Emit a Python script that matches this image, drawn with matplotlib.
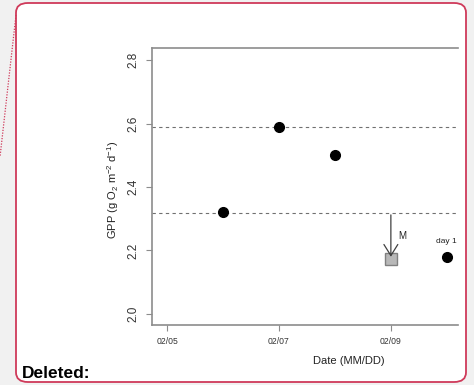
import numpy as np
import matplotlib.pyplot as plt
from matplotlib.patches import FancyBboxPatch
from matplotlib.lines import Line2D

plt.rcParams['font.family'] = ['Liberation Sans', 'DejaVu Sans']
plt.rcParams['mathtext.fontset'] = 'custom'
plt.rcParams['mathtext.rm'] = 'Liberation Sans'
plt.rcParams['mathtext.it'] = 'Liberation Sans:italic'

# GPP estimates by day of February
day = [6, 7, 8, 10]
gpp = [2.32, 2.59, 2.50, 2.18]
# moved sample (square)
day_m = [9]
gpp_m = [2.173]
# reference levels (dashed)
ref_levels = [2.59, 2.318]
xtick_days = [5, 7, 9]
xtick_labels = ['02/05', '02/07', '02/09']
yticks = [2.0, 2.2, 2.4, 2.6, 2.8]

W, H = 474, 385
fig = plt.figure(figsize=(W / 100, H / 100), dpi=100, facecolor='#f1f1f1')

def fx(px):
    return px / W

def fy(py):
    return 1 - py / H

# comment balloon frame
box = FancyBboxPatch((fx(16), fy(382)), fx(466) - fx(16), fy(3) - fy(382),
                     boxstyle='round,pad=0,rounding_size=0.025',
                     transform=fig.transFigure, facecolor='white',
                     edgecolor='#cf3a5a', linewidth=1.3, zorder=-5)
fig.patches.append(box)
fig.lines.append(Line2D([fx(16), fx(0)], [fy(15), fy(157)], transform=fig.transFigure,
                        color='#cf3a5a', linestyle=(0, (1, 1.2)), linewidth=0.9,
                        zorder=-4))
fig.text(fx(22), fy(374), 'Deleted:', fontsize=12.5, fontweight='bold',
         va='center', ha='left')

ax = fig.add_axes([fx(152), fy(325), fx(458) - fx(152), fy(48) - fy(325)])
ax.set_facecolor('none')
ax.set_xlim(4.73, 10.2)
ax.set_ylim(1.965, 2.838)

for s in ['left', 'bottom', 'top']:
    ax.spines[s].set_color('#8c8c8c')
    ax.spines[s].set_linewidth(1.2)
ax.spines['right'].set_visible(False)

for lvl in ref_levels:
    ax.axhline(lvl, color='#707070', linestyle=(0, (3, 3)), linewidth=0.8, zorder=1)

ax.plot(day, gpp, 'o', color='black', markersize=7, zorder=3)
ax.plot(day_m, gpp_m, 's', markerfacecolor='#b8b8b8', markeredgecolor='#808080',
        markersize=8, zorder=3)

ax.annotate('', xy=(9, 2.18), xytext=(9, 2.312),
            arrowprops=dict(arrowstyle='->,head_length=0.4,head_width=0.25',
                            mutation_scale=20, color='#404040', linewidth=0.9,
                            shrinkA=0, shrinkB=0), zorder=4)
ax.text(9.2, 2.245, 'M', fontsize=7, ha='center', va='center', color='#222222')
ax.text(10.0, 2.227, 'day 1', fontsize=6, ha='center', va='center', color='#222222')

ax.set_xticks(xtick_days)
ax.set_xticklabels(xtick_labels, fontsize=6.2, color='#333333')
ax.set_yticks(yticks)
ax.set_yticklabels(['%.1f' % v for v in yticks], fontsize=8.5, rotation=90,
                   va='center', color='#333333')
ax.tick_params(axis='both', length=4, width=0.8, color='#8c8c8c')
ax.tick_params(axis='x', pad=5)
ax.tick_params(axis='y', pad=5)

fig.text(fx(113), fy(190), r'GPP (g O$_2$ m$^{-2}$ d$^{-1}$)', rotation=90,
         fontsize=8, ha='center', va='center', color='#222222')
fig.text(fx(349), fy(361), 'Date (MM/DD)', fontsize=8, ha='center', va='center',
         color='#222222')

fig.savefig('out.png', dpi=100, facecolor=fig.get_facecolor())
